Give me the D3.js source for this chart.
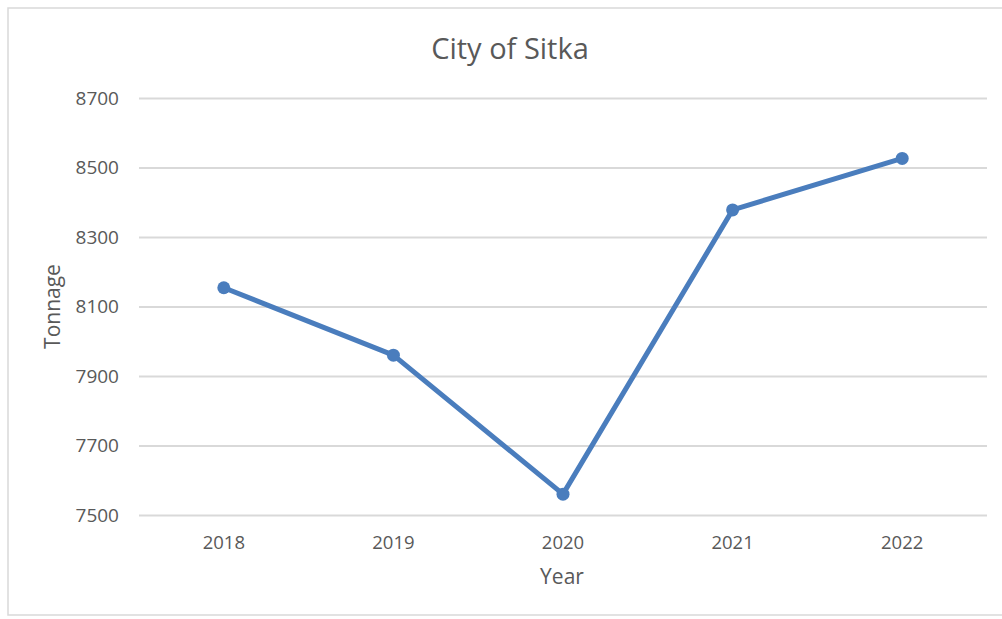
<!DOCTYPE html>
<html>
<head>
<meta charset="utf-8">
<script src="https://cdn.jsdelivr.net/npm/d3@7"></script>
<style>
  html, body { margin: 0; padding: 0; background: #fff; }
  svg { display: block; }
  text { font-family: "Open Sans", sans-serif; fill: #595959; }
</style>
</head>
<body>
<svg id="chart" width="1002" height="619"></svg>
<script>
const title = "City of Sitka";
const xLabel = "Year";
const yLabel = "Tonnage";
const years = ["2018", "2019", "2020", "2021", "2022"];
const tonnage = [8154, 7960, 7560, 8378, 8526];
const yTicks = [7500, 7700, 7900, 8100, 8300, 8500, 8700];

const svg = d3.select("#chart");
const W = 1002, H = 619;

// outer frame
svg.append("rect").attr("x", 8).attr("y", 8).attr("width", W + 10).attr("height", 607)
  .attr("fill", "#fff").attr("stroke", "#d9d9d9").attr("stroke-width", 1.5);

const mLeft = 139, mRight = 987, mTop = 98, mBottom = 515;

const x = d3.scaleBand().domain(years).range([mLeft, mRight]);
const y = d3.scaleLinear().domain([7500, 8700]).range([mBottom, mTop]);

// gridlines
const yAxis = d3.axisLeft(y).tickValues(yTicks).tickSize(-(mRight - mLeft)).tickPadding(20).tickFormat(d3.format("d"));
const gy = svg.append("g").attr("transform", `translate(${mLeft},0)`).call(yAxis);
gy.select(".domain").remove();
gy.selectAll(".tick line").attr("stroke", "#d9d9d9").attr("stroke-width", 2);
gy.selectAll(".tick text").attr("font-size", 19).attr("fill", "#595959").attr("font-family", "Open Sans");

const xAxis = d3.axisBottom(x).tickSize(0).tickPadding(21);
const gx = svg.append("g").attr("transform", `translate(0,${mBottom})`).call(xAxis);
gx.select(".domain").remove();
gx.selectAll(".tick text").attr("font-size", 18.5).attr("fill", "#595959").attr("font-family", "Open Sans");

// line
const pts = years.map((yr, i) => ({ yr, v: tonnage[i] }));
const line = d3.line().x(d => x(d.yr) + x.bandwidth() / 2).y(d => y(d.v));
svg.append("path").datum(pts).attr("d", line)
  .attr("fill", "none").attr("stroke", "#4a7dbd").attr("stroke-width", 5)
  .attr("stroke-linejoin", "round").attr("stroke-linecap", "round");
svg.selectAll("circle.pt").data(pts).enter().append("circle").attr("class", "pt")
  .attr("cx", d => x(d.yr) + x.bandwidth() / 2).attr("cy", d => y(d.v)).attr("r", 6.5)
  .attr("fill", "#4a7dbd");

// title
svg.append("text").attr("x", 510).attr("y", 59).attr("text-anchor", "middle")
  .attr("font-size", 29).text(title);

// axis titles
svg.append("text").attr("x", (mLeft + mRight) / 2 - 1).attr("y", 584).attr("text-anchor", "middle")
  .attr("font-size", 21).text(xLabel);
svg.append("text").attr("transform", `translate(60,${(mTop + mBottom) / 2}) rotate(-90)`)
  .attr("text-anchor", "middle").attr("font-size", 21).text(yLabel);
</script>
</body>
</html>
